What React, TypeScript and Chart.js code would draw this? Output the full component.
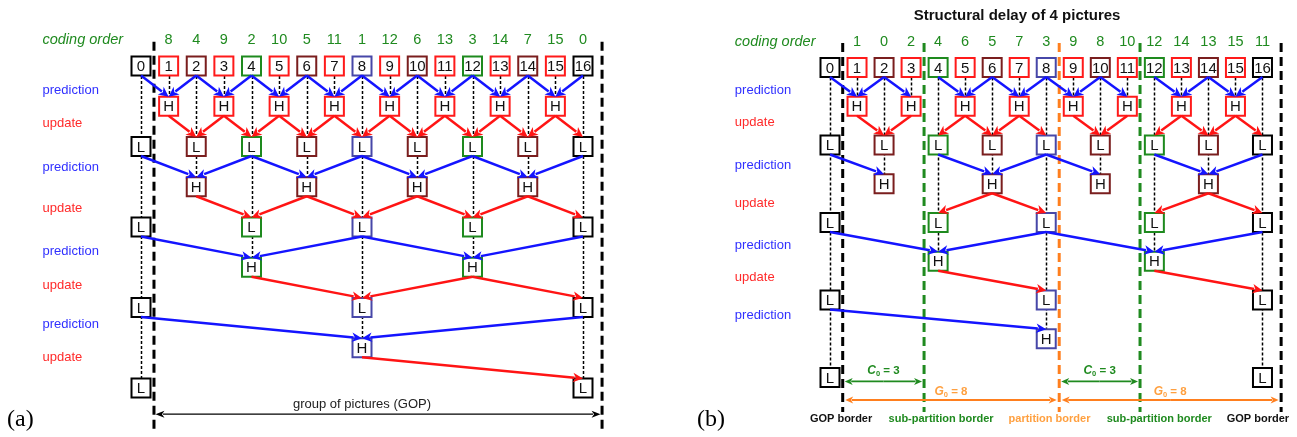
import React, { useEffect, useRef } from "react";
import { Chart, registerables } from "chart.js";

Chart.register(...registerables);

// ---------------- data ----------------
const pictures = [0, 1, 2, 3, 4, 5, 6, 7, 8, 9, 10, 11, 12, 13, 14, 15, 16];
// coding order written above pictures 1..16
const codingOrderA = [8, 4, 9, 2, 10, 5, 11, 1, 12, 6, 13, 3, 14, 7, 15, 0];
const codingOrderB = [1, 0, 2, 4, 6, 5, 7, 3, 9, 8, 10, 12, 14, 13, 15, 11];
// decomposition level at which each picture becomes a high-pass picture (4 = stays low-pass)
const pictureTier = [4, 0, 1, 0, 2, 0, 1, 0, 3, 0, 1, 0, 2, 0, 1, 0, 4];
// pictures present per level: high-pass (H) row and low-pass (L) row
const hRows = [[1, 3, 5, 7, 9, 11, 13, 15], [2, 6, 10, 14], [4, 12], [8]];
const lRows = [[0, 2, 4, 6, 8, 10, 12, 14, 16], [0, 4, 8, 12, 16], [0, 8, 16], [0, 16]];

// prediction (blue) and update (red) edges per level: [from picture, to picture]
const predA = [
  [[0, 1], [2, 1], [2, 3], [4, 3], [4, 5], [6, 5], [6, 7], [8, 7], [8, 9], [10, 9], [10, 11], [12, 11], [12, 13], [14, 13], [14, 15], [16, 15]],
  [[0, 2], [4, 2], [4, 6], [8, 6], [8, 10], [12, 10], [12, 14], [16, 14]],
  [[0, 4], [8, 4], [8, 12], [16, 12]],
  [[0, 8], [16, 8]],
];
const updA = [
  [[1, 2], [3, 2], [3, 4], [5, 4], [5, 6], [7, 6], [7, 8], [9, 8], [9, 10], [11, 10], [11, 12], [13, 12], [13, 14], [15, 14], [15, 16]],
  [[2, 4], [6, 4], [6, 8], [10, 8], [10, 12], [14, 12], [14, 16]],
  [[4, 8], [12, 8], [12, 16]],
  [[8, 16]],
];
const predB = [
  [[0, 1], [2, 1], [2, 3], [4, 5], [6, 5], [6, 7], [8, 7], [8, 9], [10, 9], [10, 11], [12, 13], [14, 13], [14, 15], [16, 15]],
  [[0, 2], [4, 6], [8, 6], [8, 10], [12, 14], [16, 14]],
  [[0, 4], [8, 4], [8, 12], [16, 12]],
  [[0, 8]],
];
const updB = [
  [[1, 2], [3, 2], [5, 4], [5, 6], [7, 6], [7, 8], [9, 10], [11, 10], [13, 12], [13, 14], [15, 14], [15, 16]],
  [[6, 4], [6, 8], [14, 12], [14, 16]],
  [[4, 8], [12, 16]],
  [],
];

const stepLabelsA = ["prediction", "update", "prediction", "update", "prediction", "update", "prediction", "update"];
const stepLabelsB = ["prediction", "update", "prediction", "update", "prediction", "update", "prediction"];

const titleB = "Structural delay of 4 pictures";
const gopCaption = "group of pictures (GOP)";
const subPartitionSize = 3; // C0
const partitionSize = 8; // G0
const borderLabelsB = ["GOP border", "sub-partition border", "partition border", "sub-partition border", "GOP border"];

// ---------------- styles / layout ----------------
const W = 1297;
const H = 437;
const HALF = 9.5;
const FONT = '"Liberation Sans", Arial, sans-serif';
const tierColors = ["#ff1a1a", "#7a1e1e", "#1e8a1e", "#4747a8", "#000000"];
const BLUE = "#1414ff";
const RED = "#ff1414";
const GREEN = "#1f8a1f";
const ORANGE = "#ff7f1e";
const ORANGE_TXT = "#ffa040";

const mapA = { x0: 141, dx: 27.625, y0: 66, dy: 40.25 };
const mapB = { x0: 830, dx: 27.03, y0: 67.5, dy: 38.75 };
const stepLabelRowsA = [0.6, 1.42, 2.51, 3.53, 4.6, 5.46, 6.41, 7.25];
const stepLabelRowsB = [0.58, 1.43, 2.52, 3.5, 4.58, 5.43, 6.39];

function buildNodes() {
  const nodes: any[] = [];
  pictures.forEach((p) => nodes.push({ x: p, y: 0, text: String(p), tier: pictureTier[p] }));
  hRows.forEach((row, k) => {
    row.forEach((p) => nodes.push({ x: p, y: 2 * k + 1, text: "H", tier: pictureTier[p] }));
    lRows[k].forEach((p) => nodes.push({ x: p, y: 2 * k + 2, text: "L", tier: pictureTier[p] }));
  });
  return nodes;
}

function scaleRange(m: any, horizontal: boolean) {
  if (horizontal) {
    const min = -m.x0 / m.dx;
    return { min, max: min + W / m.dx };
  }
  const min = -m.y0 / m.dy;
  return { min, max: min + H / m.dy };
}

function arrow(ctx: CanvasRenderingContext2D, x1: number, y1: number, x2: number, y2: number, color: string, lw: number, head = 10, hw = 4.8) {
  const a = Math.atan2(y2 - y1, x2 - x1);
  const bx = x2 - head * Math.cos(a);
  const by = y2 - head * Math.sin(a);
  ctx.save();
  ctx.setLineDash([]);
  ctx.strokeStyle = color;
  ctx.lineWidth = lw;
  ctx.beginPath();
  ctx.moveTo(x1, y1);
  ctx.lineTo(bx + 1.5 * Math.cos(a), by + 1.5 * Math.sin(a));
  ctx.stroke();
  ctx.fillStyle = color;
  ctx.beginPath();
  ctx.moveTo(x2, y2);
  ctx.lineTo(bx + hw * Math.sin(a), by - hw * Math.cos(a));
  ctx.lineTo(x2 - head * 0.72 * Math.cos(a), y2 - head * 0.72 * Math.sin(a));
  ctx.lineTo(bx - hw * Math.sin(a), by + hw * Math.cos(a));
  ctx.closePath();
  ctx.fill();
  ctx.restore();
}

function text(ctx: CanvasRenderingContext2D, s: string, x: number, y: number, font: string, color: string, align: CanvasTextAlign = "center") {
  ctx.save();
  ctx.font = font;
  ctx.fillStyle = color;
  ctx.textAlign = align;
  ctx.textBaseline = "middle";
  ctx.fillText(s, x, y);
  ctx.restore();
}

function subLabel(ctx: CanvasRenderingContext2D, main: string, sub: string, rest: string, cx: number, cy: number, color: string) {
  ctx.save();
  const f1 = `italic bold 12px ${FONT}`;
  const f2 = `bold 7.5px ${FONT}`;
  const f3 = `bold 11.5px ${FONT}`;
  ctx.font = f1;
  const w1 = ctx.measureText(main).width;
  ctx.font = f2;
  const w2 = ctx.measureText(sub).width;
  ctx.font = f3;
  const w3 = ctx.measureText(rest).width;
  let x = cx - (w1 + w2 + w3) / 2;
  ctx.fillStyle = color;
  ctx.textBaseline = "middle";
  ctx.textAlign = "left";
  ctx.font = f1;
  ctx.fillText(main, x, cy);
  x += w1;
  ctx.font = f2;
  ctx.fillText(sub, x, cy + 3);
  x += w2;
  ctx.font = f3;
  ctx.fillText(rest, x, cy);
  ctx.restore();
}

const panels = [
  {
    xId: "xa", yId: "ya", pred: predA, upd: updA, coding: codingOrderA, steps: stepLabelsA, stepRows: stepLabelRowsA,
    labelX: -3.566, codingY: -0.646,
    borders: [{ x: 0.47, c: "#000" }, { x: 16.69, c: "#000" }], borderTop: -0.6, borderBottom: 9.09,
  },
  {
    xId: "xb", yId: "yb", pred: predB, upd: updB, coding: codingOrderB, steps: stepLabelsB, stepRows: stepLabelRowsB,
    labelX: -3.52, codingY: -0.666,
    borders: [{ x: 0.47, c: "#000" }, { x: 3.48, c: GREEN }, { x: 8.48, c: ORANGE }, { x: 11.47, c: GREEN }, { x: 16.69, c: "#000" }],
    borderTop: -0.63, borderBottom: 8.89,
  },
];

const diagramPlugin = {
  id: "lifting-diagram",
  beforeDatasetsDraw(chart: any) {
    const ctx: CanvasRenderingContext2D = chart.ctx;
    const nodes = buildNodes();
    panels.forEach((pn) => {
      const X = (v: number) => chart.scales[pn.xId].getPixelForValue(v);
      const Y = (v: number) => chart.scales[pn.yId].getPixelForValue(v);
      // dotted column links
      ctx.save();
      ctx.strokeStyle = "#000";
      ctx.lineWidth = 1.5;
      ctx.setLineDash([3, 2]);
      pictures.forEach((p) => {
        const last = Math.max(...nodes.filter((n) => n.x === p).map((n) => n.y));
        ctx.beginPath();
        ctx.moveTo(Math.round(X(p)) + 0.5, Y(0));
        ctx.lineTo(Math.round(X(p)) + 0.5, Y(last));
        ctx.stroke();
      });
      ctx.restore();
      // dashed borders
      ctx.save();
      ctx.lineWidth = 3;
      ctx.setLineDash([9, 5]);
      pn.borders.forEach((b) => {
        ctx.strokeStyle = b.c;
        ctx.beginPath();
        ctx.moveTo(X(b.x), Y(pn.borderTop));
        ctx.lineTo(X(b.x), Y(pn.borderBottom));
        ctx.stroke();
      });
      ctx.restore();
    });
  },
  afterDatasetsDraw(chart: any) {
    const ctx: CanvasRenderingContext2D = chart.ctx;
    const nodes = buildNodes();
    panels.forEach((pn, pi) => {
      const X = (v: number) => chart.scales[pn.xId].getPixelForValue(v);
      const Y = (v: number) => chart.scales[pn.yId].getPixelForValue(v);
      // box labels
      nodes.forEach((n) => text(ctx, n.text, X(n.x), Y(n.y) + 1, `15px ${FONT}`, "#111"));
      // prediction / update arrows
      pn.pred.forEach((edges, k) => {
        edges.forEach(([a, b]) => arrow(ctx, X(a), Y(2 * k) + HALF, X(b), Y(2 * k + 1) - HALF, BLUE, 2.5));
      });
      pn.upd.forEach((edges, k) => {
        edges.forEach(([a, b]) => arrow(ctx, X(a), Y(2 * k + 1) + HALF, X(b), Y(2 * k + 2) - HALF, RED, 2.5));
      });
      // coding order
      text(ctx, "coding order", X(pn.labelX), Y(pn.codingY), `italic 14.5px ${FONT}`, GREEN, "left");
      pn.coding.forEach((c, i) => text(ctx, String(c), X(i + 1), Y(pn.codingY), `14.5px ${FONT}`, GREEN));
      // step labels
      pn.steps.forEach((s, i) =>
        text(ctx, s, X(pn.labelX), Y(pn.stepRows[i]), `13px ${FONT}`, s === "prediction" ? "#3030ff" : "#ff2a2a", "left")
      );
      if (pi === 0) {
        const yArr = Y(8.65);
        arrow(ctx, X(8), yArr, X(0.47) + 1.5, yArr, "#000", 1.3, 9, 3.5);
        arrow(ctx, X(8), yArr, X(16.69) - 1.5, yArr, "#000", 1.3, 9, 3.5);
        text(ctx, gopCaption, X(8), Y(8.4), `13px ${FONT}`, "#222");
        text(ctx, "(a)", 7, Y(8.795), `24px "Liberation Serif", "Times New Roman", serif`, "#000", "left");
      } else {
        text(ctx, titleB, X(6.92), Y(-1.337), `bold 15px ${FONT}`, "#111");
        const b = pn.borders.map((d) => d.x);
        // C0 arrows
        [[b[0], b[1]], [b[2], b[3]]].forEach(([l, r]) => {
          const m = (l + r) / 2;
          arrow(ctx, X(m), Y(8.1), X(l) + 2, Y(8.1), GREEN, 1.7, 8, 3.5);
          arrow(ctx, X(m), Y(8.1), X(r) - 2, Y(8.1), GREEN, 1.7, 8, 3.5);
          subLabel(ctx, "C", "0", ` = ${subPartitionSize}`, X(m), Y(7.83), GREEN);
        });
        // G0 arrows
        [[b[0], b[2]], [b[2], b[4]]].forEach(([l, r]) => {
          const m = (l + r) / 2;
          arrow(ctx, X(m), Y(8.58), X(l) + 2.5, Y(8.58), ORANGE, 2, 8, 3.5);
          arrow(ctx, X(m), Y(8.58), X(r) - 2.5, Y(8.58), ORANGE, 2, 8, 3.5);
          subLabel(ctx, "G", "0", ` = ${partitionSize}`, X(m), Y(8.37), ORANGE_TXT);
        });
        const labelXs = [0.41, 4.11, 8.12, 12.18, 15.83];
        const labelColors = ["#111", GREEN, ORANGE_TXT, GREEN, "#111"];
        borderLabelsB.forEach((s, i) => text(ctx, s, X(labelXs[i]), Y(9.07), `bold 11px ${FONT}`, labelColors[i]));
        text(ctx, "(b)", 697, Y(9.097), `24px "Liberation Serif", "Times New Roman", serif`, "#000", "left");
      }
    });
  },
};

export default function App() {
  const ref = useRef<HTMLCanvasElement | null>(null);
  useEffect(() => {
    if (!ref.current) return;
    const nodes = buildNodes();
    const rXA = scaleRange(mapA, true);
    const rYA = scaleRange(mapA, false);
    const rXB = scaleRange(mapB, true);
    const rYB = scaleRange(mapB, false);
    const boxStyle = {
      pointStyle: "rect",
      pointRadius: HALF / Math.SQRT1_2,
      pointBorderWidth: 2,
      pointBackgroundColor: "#ffffff",
      pointBorderColor: (c: any) => tierColors[c.raw ? c.raw.tier : 4],
      showLine: false,
      clip: false,
    };
    const chart = new Chart(ref.current, {
      type: "scatter",
      data: {
        datasets: [
          { data: nodes, xAxisID: "xa", yAxisID: "ya", ...boxStyle } as any,
          { data: nodes, xAxisID: "xb", yAxisID: "yb", ...boxStyle } as any,
        ],
      },
      options: {
        animation: false,
        responsive: false,
        devicePixelRatio: 1,
        events: [],
        layout: { padding: 0, autoPadding: false },
        plugins: { legend: { display: false }, tooltip: { enabled: false }, title: { display: false } },
        scales: {
          xa: { type: "linear", axis: "x", position: "bottom", display: false, min: rXA.min, max: rXA.max },
          ya: { type: "linear", axis: "y", position: "left", display: false, reverse: true, min: rYA.min, max: rYA.max },
          xb: { type: "linear", axis: "x", position: "bottom", display: false, min: rXB.min, max: rXB.max },
          yb: { type: "linear", axis: "y", position: "left", display: false, reverse: true, min: rYB.min, max: rYB.max },
        },
      } as any,
      plugins: [diagramPlugin as any],
    });
    return () => chart.destroy();
  }, []);
  return (
    <div style={{ position: "absolute", left: 0, top: 0, width: W, height: H, background: "#fff" }}>
      <canvas ref={ref} width={W} height={H} style={{ display: "block", width: W, height: H }} />
    </div>
  );
}
